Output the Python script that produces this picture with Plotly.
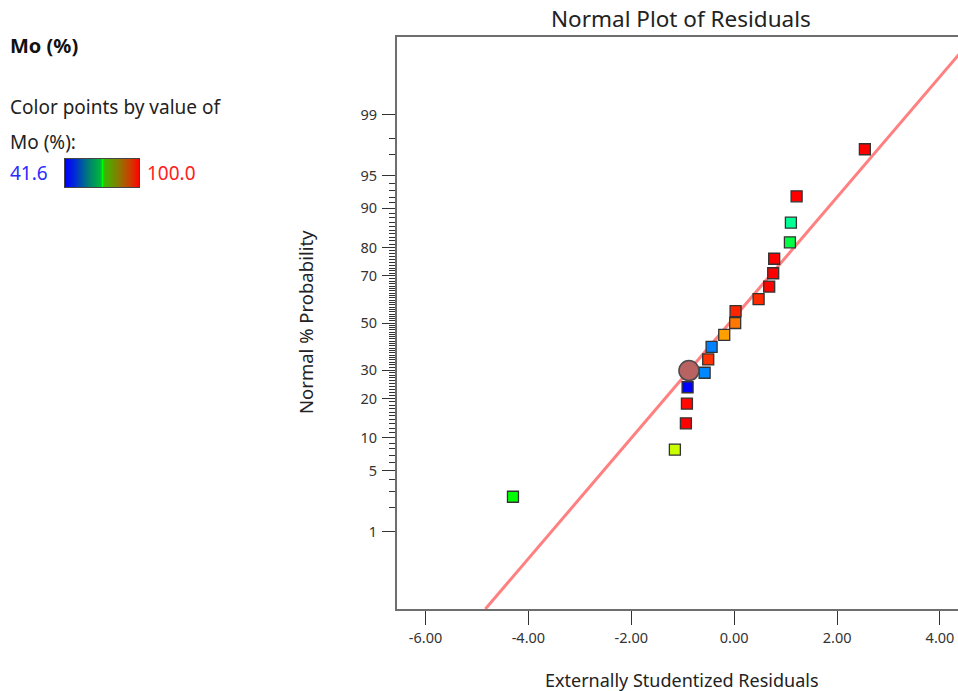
from statistics import NormalDist
import plotly.graph_objects as go

W, H = 958, 691
FONT = "Noto Sans"

# Externally studentized residuals, in rank order
residuals = [-4.30, -1.153, -0.939, -0.919, -0.906, -0.575, -0.505, -0.439, -0.194,
             0.019, 0.027, 0.474, 0.680, 0.758, 0.777, 1.083, 1.102, 1.213, 2.540]
# Normal % probability of each ranked residual
probabilities = [2.63, 7.89, 13.16, 18.42, 23.68, 28.95, 34.21, 39.47, 44.74, 50.0,
                 55.26, 60.53, 65.79, 71.05, 76.32, 81.58, 86.84, 92.11, 97.37]
# Mo (%) response of each run (used for point colour)
mo_values = [70.8, 82.3, 100.0, 99.5, 41.6, 49.4, 97.1, 49.0, 90.9, 93.2,
             98.0, 97.6, 99.8, 100.0, 100.0, 66.9, 62.3, 100.0, 100.0]
mo_min, mo_max = 41.6, 100.0

# Highlighted run
selected_residual = -0.88
selected_probability = 29.8

# Reference normal line: residual = centre + scale * z
line_center = -0.09
line_scale = 1.488

# Axis ticks
x_ticks = [-6, -4, -2, 0, 2, 4]
y_major = [1, 5, 10, 20, 30, 50, 70, 80, 90, 95, 99]
y_minor = [p for p in range(2, 99) if p not in y_major and p != 96]

probit = NormalDist().inv_cdf
def z_of(p):
    return probit(p / 100.0)

Z_LIM = 3.19
X_RANGE = [-6.56, 4.35]

# pixel -> paper helpers (margins are zero so paper == window)
def px(x):
    return x / W
def py(y):
    return 1 - y / H

hue_scale = [[0.0, "#0000ff"], [0.25, "#00ffff"], [0.5, "#00ff00"],
             [0.75, "#ffff00"], [1.0, "#ff0000"]]
bar_scale = [[0.0, "#0000ff"], [0.12, "#0028d8"], [0.3, "#007a7a"],
             [0.48, "#00b838"], [0.5, "#00ff00"], [0.52, "#38b800"],
             [0.72, "#8a7a00"], [0.88, "#d03a00"], [1.0, "#ff0000"]]

fig = go.Figure()

# normal reference line
line_z = [-Z_LIM, Z_LIM]
fig.add_trace(go.Scatter(
    x=[line_center + line_scale * z for z in line_z], y=line_z,
    mode="lines", line=dict(color="#ff8080", width=3),
    hoverinfo="skip", showlegend=False))

# residual points coloured by Mo (%)
fig.add_trace(go.Scatter(
    x=residuals, y=[z_of(p) for p in probabilities],
    mode="markers",
    marker=dict(symbol="square", size=11, color=mo_values, colorscale=hue_scale,
                cmin=mo_min, cmax=mo_max, line=dict(color="#333333", width=1.3)),
    customdata=probabilities,
    hovertemplate="%{x:.2f}, %{customdata:.2f}%<extra></extra>",
    showlegend=False))

# highlighted run
fig.add_trace(go.Scatter(
    x=[selected_residual], y=[z_of(selected_probability)],
    mode="markers",
    marker=dict(symbol="circle", size=20, color="#b86262",
                line=dict(color="#4a4a4a", width=1.5)),
    hoverinfo="skip", showlegend=False))

# colour legend gradient bar
fig.add_trace(go.Heatmap(
    z=[[mo_min, (mo_min + mo_max) / 2, mo_max]], x=[0, 1, 2], y=[0],
    colorscale=bar_scale, zmin=mo_min, zmax=mo_max, zsmooth="best",
    showscale=False, hoverinfo="skip", xaxis="x2", yaxis="y2"))

axis_font = dict(family=FONT, size=14.5, color="#333333")
fig.update_layout(
    width=W, height=H,
    margin=dict(l=0, r=0, t=0, b=0),
    paper_bgcolor="white", plot_bgcolor="white",
    xaxis=dict(
        domain=[px(396.7), 1.0], range=X_RANGE,
        tickvals=x_ticks, ticktext=[f"{v:.2f}" for v in x_ticks],
        ticks="outside", ticklen=14, tickwidth=1.3, tickcolor="#333333",
        showline=True, linecolor="#6e6e6e", linewidth=1.6, mirror=True,
        showgrid=False, zeroline=False, tickfont=axis_font,
        ticklabelstandoff=1),
    yaxis=dict(
        domain=[py(609), py(37)], range=[-Z_LIM, Z_LIM],
        tickvals=[z_of(p) for p in y_major], ticktext=[str(p) for p in y_major],
        ticks="outside", ticklen=13, tickwidth=1.3, tickcolor="#333333",
        minor=dict(tickmode="array", tickvals=[z_of(p) for p in y_minor],
                   ticks="outside", ticklen=6, tickwidth=1, tickcolor="#333333",
                   showgrid=False),
        showline=True, linecolor="#6e6e6e", linewidth=1.6, mirror=False,
        showgrid=False, zeroline=False, tickfont=axis_font,
        ticklabelstandoff=2),
    xaxis2=dict(domain=[px(65), px(139)], range=[0, 2], anchor="y2",
                showticklabels=False, ticks="", showgrid=False, zeroline=False,
                showline=True, linecolor="#444444", linewidth=1, mirror=True),
    yaxis2=dict(domain=[py(187), py(159)], range=[-0.5, 0.5], anchor="x2",
                showticklabels=False, ticks="", showgrid=False, zeroline=False,
                showline=True, linecolor="#444444", linewidth=1, mirror=True),
)

def note(text, x, y, size=19, color="#222222", xanchor="left", bold=False, angle=0):
    fig.add_annotation(
        text=f"<b>{text}</b>" if bold else text,
        x=px(x), y=py(y), xref="paper", yref="paper",
        xanchor=xanchor, yanchor="middle", showarrow=False, textangle=angle,
        font=dict(family=FONT, size=size, color=color))

note("Normal Plot of Residuals", 681, 19, size=22.5, xanchor="center")
note("Externally Studentized Residuals", 682, 680, size=18, xanchor="center")
note("Normal % Probability", 305, 322, size=18.5, xanchor="center", angle=-90)

note("Mo (%)", 8, 45, size=20, color="#111111", bold=True)
note("Color points by value of", 8, 107)
note("Mo (%):", 8, 142)
note(f"{mo_min:.1f}", 8, 173, color="#2a2aff")
note(f"{mo_max:.1f}", 145, 173, color="#ff2020")

fig.write_html("out.html")
